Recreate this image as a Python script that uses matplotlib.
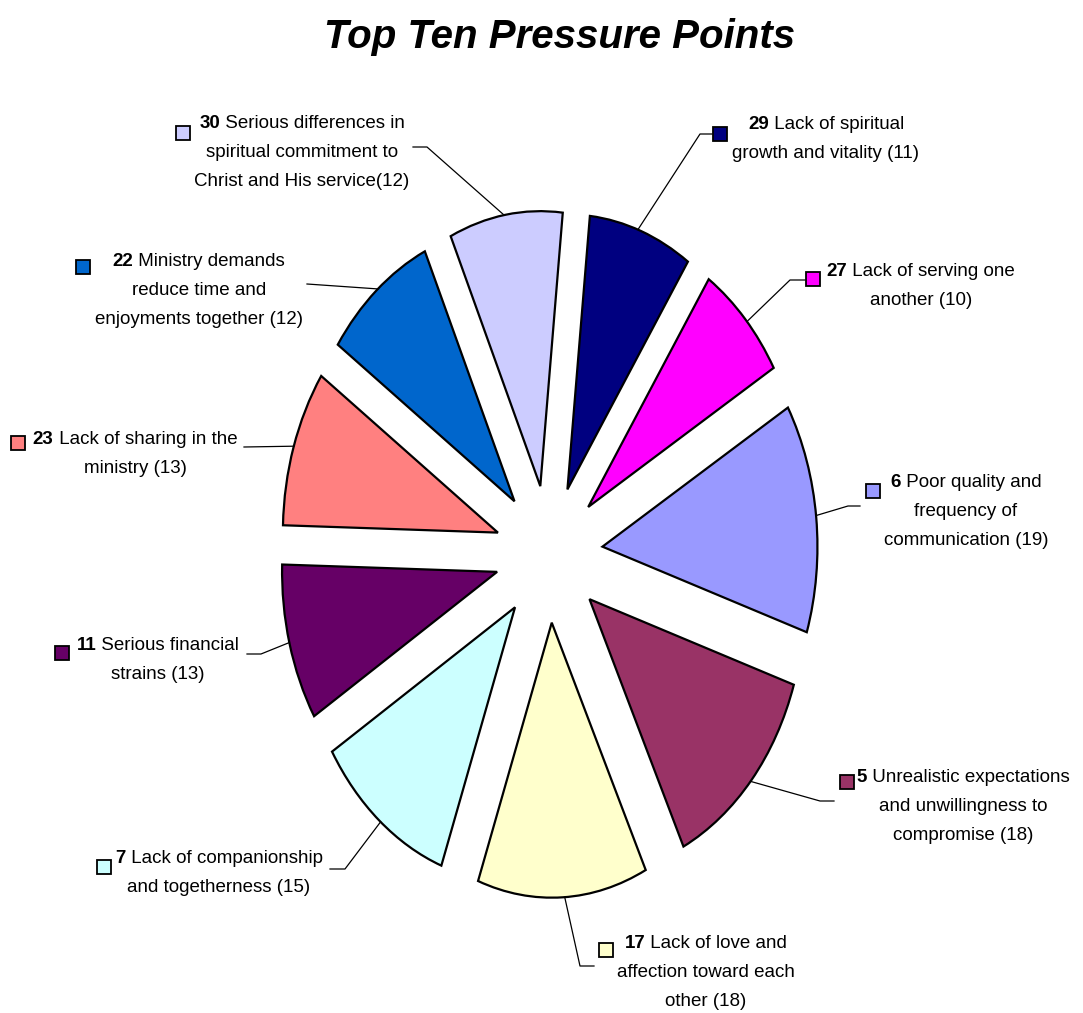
import numpy as np
import matplotlib
matplotlib.use("Agg")
import matplotlib.pyplot as plt
from matplotlib import font_manager
from matplotlib.patches import Rectangle

# ---------------- data ----------------
values = [11, 10, 19, 18, 18, 15, 13, 13, 12, 12]
numbers = ['29', '27', '6', '5', '17', '7', '11', '23', '22', '30']
label_lines = [
    ["Lack of spiritual", "growth and vitality (11)"],
    ["Lack of serving one", "another (10)"],
    ["Poor quality and", "frequency of", "communication (19)"],
    ["Unrealistic expectations", "and unwillingness to", "compromise (18)"],
    ["Lack of love and", "affection toward each", "other (18)"],
    ["Lack of companionship", "and togetherness (15)"],
    ["Serious financial", "strains (13)"],
    ["Lack of sharing in the", "ministry (13)"],
    ["Ministry demands", "reduce time and", "enjoyments together (12)"],
    ["Serious differences in", "spiritual commitment to", "Christ and His service(12)"],
]
colors = ['#000080', '#FF00FF', '#9999FF', '#993366', '#FFFFCC',
          '#CCFFFF', '#660066', '#FF8080', '#0066CC', '#CCCCFF']
title = "Top Ten Pressure Points"

# ---------------- layout (pixels) ----------------
W, H = 1083, 1013
CX, CY = 549, 554          # pie centre in pixels
RX, RY = 215, 275          # radius in pixels (stretched pie)
EXPLODE = 0.25
START = 84

# label centre x, first baseline y
label_pos = [(826, 129), (921, 276), (966, 487), (963, 782), (706, 948),
             (219, 863), (158, 650), (135, 444), (199, 266), (302, 128)]
key_pos = [(720, 134), (813, 279), (873, 491), (847, 782), (606, 950),
           (104, 867), (62, 653), (18, 443), (83, 267), (183, 133)]
# leader: label-side points (pixels) and target point near wedge arc
leader_pts = [[(712, 134), (700, 134)], [(805, 280), (790, 280)],
              [(860, 506), (848, 506)], [(834, 801), (820, 801)],
              [(594, 966), (580, 966)], [(330, 869), (345, 869)],
              [(247, 654), (261, 654)], [(244, 447)], [(307, 284)],
              [(413, 147), (427, 147)]]
leader_end = [(640, 222), (750, 318), (813, 516), (752, 783), (565, 903),
              (378, 826), (288, 643), (291, 445), (376, 286), (503, 207)]
LINE_H = 29

# ---------------- fonts ----------------
def has_font(name):
    try:
        font_manager.findfont(font_manager.FontProperties(family=name),
                              fallback_to_default=False)
        return True
    except Exception:
        return False

if has_font('Liberation Sans Narrow'):
    FAM = 'Liberation Sans Narrow'
    LSIZE, TSIZE = 16.3, 35
else:
    FAM = 'Liberation Sans'
    LSIZE, TSIZE = 13.5, 29

fig = plt.figure(figsize=(W / 100, H / 100), dpi=100)
ax = fig.add_axes([0, 0, 1, 1])

def px(x, y):
    return ((x - CX) / RX, (CY - y) / RY)

wedges, _ = ax.pie(values, colors=colors, startangle=START, counterclock=False,
                   explode=[EXPLODE] * len(values),
                   wedgeprops=dict(edgecolor='black', linewidth=1.6))
ax.set_aspect('auto')
ax.set_xlim(-CX / RX, (W - CX) / RX)
ax.set_ylim(-(H - CY) / RY, CY / RY)
ax.axis('off')

renderer = fig.canvas.get_renderer()

# title
tx, ty = px(559.5, 48)
ax.text(tx, ty, title, family=FAM, fontsize=TSIZE, fontweight='bold',
        fontstyle='italic', ha='center', va='baseline')

for i in range(len(values)):
    xc, yb = label_pos[i]
    lines = label_lines[i]
    x0, y0 = px(xc, yb)
    tnum = ax.text(0, y0, numbers[i], family=FAM, fontsize=LSIZE,
                   fontweight='bold', ha='left', va='baseline')
    trest = ax.text(0, y0, " " + lines[0], family=FAM, fontsize=LSIZE,
                    ha='left', va='baseline')
    wn = tnum.get_window_extent(renderer).width
    wr = trest.get_window_extent(renderer).width
    left = xc - (wn + wr) / 2
    tnum.set_x(px(left, yb)[0])
    trest.set_x(px(left + wn, yb)[0])
    for k, ln in enumerate(lines[1:], start=1):
        xx, yy = px(xc, yb + k * LINE_H)
        ax.text(xx, yy, ln, family=FAM, fontsize=LSIZE, ha='center',
                va='baseline')
    # legend key square
    kx, ky = key_pos[i]
    s = 14
    bl = px(kx - s / 2, ky + s / 2)
    ax.add_patch(Rectangle(bl, s / RX, s / RY, facecolor=colors[i],
                           edgecolor='black', linewidth=1.3, zorder=5))
    # leader line ending on the wedge arc
    w = wedges[i]
    cxw, cyw = w.center
    ex, ey = px(*leader_end[i])
    a = np.arctan2(ey - cyw, ex - cxw)
    anchor = (cxw + w.r * np.cos(a), cyw + w.r * np.sin(a))
    pts = [px(*p) for p in leader_pts[i]] + [anchor]
    ax.plot([p[0] for p in pts], [p[1] for p in pts], color='black',
            linewidth=0.9, zorder=1)

fig.savefig("out.png", dpi=100)
